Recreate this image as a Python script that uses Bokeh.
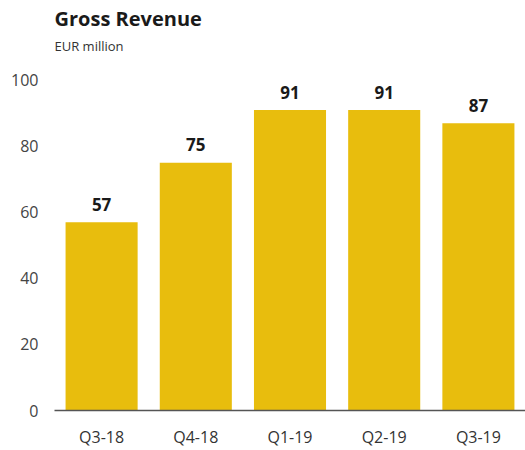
from bokeh.plotting import figure
from bokeh.models import ColumnDataSource, Title, Range1d, FactorRange
from bokeh.core.properties import value
from bokeh.embed import file_html
from bokeh.resources import INLINE

quarters = ["Q3-18", "Q4-18", "Q1-19", "Q2-19", "Q3-19"]
revenue = [57, 75, 91, 91, 87]
y_ticks = [0, 20, 40, 60, 80, 100]

src = ColumnDataSource(dict(q=quarters, v=revenue, lab=[str(v) for v in revenue]))

p = figure(x_range=FactorRange(*quarters, range_padding=0), y_range=Range1d(0, 106),
           width=525, height=450, output_backend="svg", toolbar_location=None,
           min_border_left=54, min_border_right=0, min_border_bottom=20, min_border_top=60)
p.title = None
p.add_layout(Title(text="EUR million", text_font="Open Sans", text_font_size="13px",
                   text_font_style="normal", text_color="#333333", align="left",
                   offset=0, standoff=12), "above")
p.add_layout(Title(text="Gross Revenue", text_font="Open Sans", text_font_size="20px",
                   text_font_style="bold", text_color="#1a1a1a", align="left",
                   offset=0, standoff=-7), "above")

p.vbar(x="q", top="v", width=0.765, source=src, color="#E8BD0D", line_color=None)
p.text(x="q", y="v", text="lab", source=src, text_align="center",
       text_baseline="alphabetic", y_offset=-18, text_font=value("Open Sans"),
       text_font_size="17px", text_font_style="bold", text_color="#1a1a1a")

p.outline_line_color = None
p.xgrid.grid_line_color = None
p.ygrid.grid_line_color = None

p.yaxis.ticker = y_ticks
p.yaxis.axis_line_color = None
p.yaxis.major_tick_line_color = None
p.yaxis.minor_tick_line_color = None
p.yaxis.major_tick_out = 0
p.yaxis.major_tick_in = 0
p.yaxis.minor_tick_out = 0
p.yaxis.major_label_text_font = "Open Sans"
p.yaxis.major_label_text_font_size = "16px"
p.yaxis.major_label_text_color = "#444444"
p.yaxis.major_label_standoff = 16

p.xaxis.axis_line_color = "#555555"
p.xaxis.axis_line_width = 1.5
p.xaxis.major_tick_line_color = None
p.xaxis.minor_tick_line_color = None
p.xaxis.major_tick_out = 0
p.xaxis.major_tick_in = 0
p.xaxis.minor_tick_out = 0
p.xaxis.major_label_text_font = "Open Sans"
p.xaxis.major_label_text_font_size = "16px"
p.xaxis.major_label_text_color = "#333333"
p.xaxis.major_label_standoff = 15

open("out.html", "w").write(file_html(p, INLINE))
